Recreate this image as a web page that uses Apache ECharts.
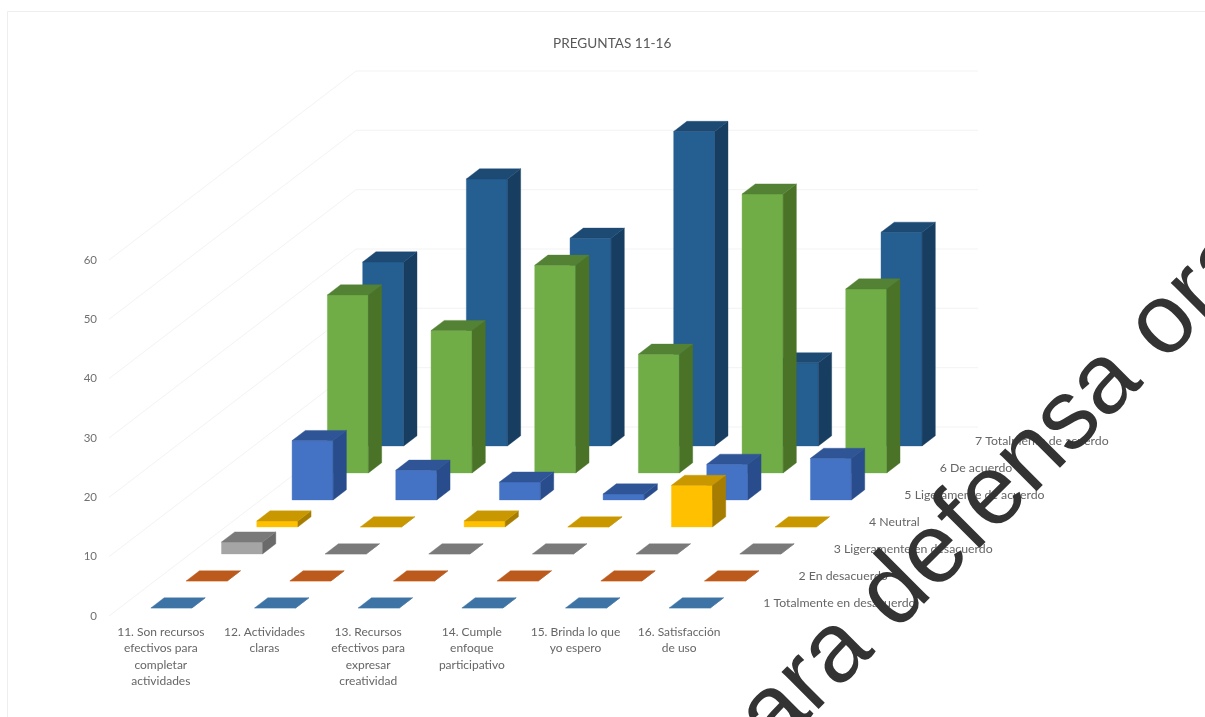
<!DOCTYPE html>
<html>
<head>
<meta charset="utf-8">
<style>html,body{margin:0;padding:0;background:#fff;overflow:hidden}#chart{width:1205px;height:717px}</style>
<script src="https://cdn.jsdelivr.net/npm/echarts@6/dist/echarts.min.js"></script>
</head>
<body>
<div id="chart"></div>
<script>
const categories = [
  '11. Son recursos\nefectivos para\ncompletar\nactividades',
  '12. Actividades\nclaras',
  '13. Recursos\nefectivos para\nexpresar\ncreatividad',
  '14. Cumple\nenfoque\nparticipativo',
  '15. Brinda lo que\nyo espero',
  '16. Satisfacción\nde uso'
];
const valueTicks = [0, 10, 20, 30, 40, 50, 60];
const totalmenteDesacuerdo = [0, 0, 0, 0, 0, 0];
const enDesacuerdo = [0, 0, 0, 0, 0, 0];
const ligeramenteDesacuerdo = [2, 0, 0, 0, 0, 0];
const neutral = [1, 0, 1, 0, 7, 0];
const ligeramenteAcuerdo = [10, 5, 3, 1, 6, 7];
const deAcuerdo = [30, 24, 35, 20, 47, 31];
const totalmenteAcuerdo = [31, 45, 35, 53, 14, 36];

// Each row sits one step further back on the floor of the oblique 3D view.
const rows = [
  { name: '1 Totalmente en desacuerdo', values: totalmenteDesacuerdo, front: '#5B9BD5', top: '#3E74A5', side: '#335F88' },
  { name: '2 En desacuerdo', values: enDesacuerdo, front: '#ED7D31', top: '#BC5A1D', side: '#9C4A16' },
  { name: '3 Ligeramente en desacuerdo', values: ligeramenteDesacuerdo, front: '#A5A5A5', top: '#7A7A7A', side: '#6A6A6A' },
  { name: '4 Neutral', values: neutral, front: '#FFC000', top: '#C99800', side: '#A67D00' },
  { name: '5 Ligeramente de acuerdo', values: ligeramenteAcuerdo, front: '#4472C4', top: '#2F5597', side: '#294C8C' },
  { name: '6 De acuerdo', values: deAcuerdo, front: '#70AD47', top: '#548235', side: '#4A7328' },
  { name: '7 Totalmente de acuerdo', values: totalmenteAcuerdo, front: '#255E91', top: '#1C4A73', side: '#173D60' }
];

const STEP_X = 35.3, STEP_Y = 27;
const ROW_START = 0.3, BAR_DEPTH = 0.375, BAR_WIDTH = 0.396;
const FONT = 'Lato, "Open Sans", sans-serif';
const rowCount = rows.length;

const shift = (pt, depth) => [pt[0] + STEP_X * depth, pt[1] - STEP_Y * depth];

function poly(points, fill) {
  return { type: 'polygon', shape: { points }, style: { fill, stroke: fill, lineWidth: 0.4 } };
}

function barRenderer(row, rowIndex) {
  return function (params, api) {
    const cat = api.value(0);
    const band = api.size([1, 0])[0];
    const half = band * BAR_WIDTH / 2;
    const base = api.coord([cat, 0]);
    const top = api.coord([cat, api.value(1)]);
    const d0 = ROW_START + rowIndex;
    const d1 = d0 + BAR_DEPTH;
    const fl = shift([base[0] - half, base[1]], d0);
    const fr = shift([base[0] + half, base[1]], d0);
    const tl = shift([top[0] - half, top[1]], d0);
    const tr = shift([top[0] + half, top[1]], d0);
    const br = shift([base[0] + half, base[1]], d1);
    const bt = shift([top[0] + half, top[1]], d1);
    const bl = shift([top[0] - half, top[1]], d1);
    return {
      type: 'group',
      children: [
        poly([fl, fr, tr, tl], row.front),
        poly([fr, br, bt, tr], row.side),
        poly([tl, tr, bt, bl], row.top)
      ]
    };
  };
}

// Faint wall gridlines: along the left wall, then across the back wall.
function wallRenderer(params, api) {
  const v = api.value(0);
  const first = api.coord([0, v]);
  const last = api.coord([categories.length - 1, v]);
  const band = api.size([1, 0])[0];
  const frontLeft = [first[0] - band / 2, first[1]];
  const frontRight = [last[0] + band / 2, last[1]];
  return {
    type: 'polyline',
    shape: { points: [frontLeft, shift(frontLeft, rowCount), shift(frontRight, rowCount)] },
    style: { fill: 'none', stroke: '#f3f3f3', lineWidth: 1 }
  };
}

// Row names run up the right-hand edge of the floor.
function rowLabelRenderer(params, api) {
  const i = api.value(0);
  const last = api.coord([categories.length - 1, 0]);
  const band = api.size([1, 0])[0];
  const pt = shift([last[0] + band / 2 + 14.5, last[1] + 1], i + 0.5);
  return {
    type: 'text',
    x: pt[0], y: pt[1],
    style: { text: rows[i].name, fill: '#666666', font: '12.3px ' + FONT, align: 'left', verticalAlign: 'middle' }
  };
}

const series = [
  { type: 'custom', coordinateSystem: 'cartesian2d', renderItem: wallRenderer, silent: true, z: 1,
    data: valueTicks.map(v => [v]), encode: { y: 0 } }
];
for (let r = rowCount - 1; r >= 0; r--) {
  series.push({
    type: 'custom', name: rows[r].name, coordinateSystem: 'cartesian2d',
    renderItem: barRenderer(rows[r], r), z: 10 + (rowCount - r),
    data: rows[r].values.map((v, i) => [i, v]), encode: { x: 0, y: 1 }
  });
}
series.push({
  type: 'custom', coordinateSystem: 'cartesian2d', renderItem: rowLabelRenderer, silent: true, z: 20,
  data: rows.map((_, i) => [i])
});

const chart = echarts.init(document.getElementById('chart'));
chart.setOption({
  animation: false,
  backgroundColor: '#ffffff',
  title: {
    text: 'PREGUNTAS 11-16', left: 548, top: 32,
    textStyle: { color: '#595959', fontSize: 13.6, fontWeight: 'normal', fontFamily: FONT }
  },
  grid: { left: 109, top: 260, width: 622, height: 356 },
  xAxis: {
    type: 'category', data: categories,
    axisLine: { show: false }, axisTick: { show: false }, splitLine: { show: false },
    axisLabel: { color: '#666666', fontSize: 12, fontFamily: FONT, lineHeight: 16.3, margin: 8, interval: 0 }
  },
  yAxis: {
    type: 'value', min: 0, max: 60, interval: 10,
    axisLine: { show: false }, axisTick: { show: false }, splitLine: { show: false },
    axisLabel: { color: '#707070', fontSize: 11.5, fontFamily: FONT, margin: 12,
      formatter: v => String(valueTicks[valueTicks.indexOf(v)]) }
  },
  graphic: [
    { type: 'rect', z: 0, silent: true, shape: { x: 7.5, y: 11.5, width: 1300, height: 800 },
      style: { fill: 'none', stroke: '#eeeeee', lineWidth: 1 } },
    { type: 'text', z: 100, silent: true, x: 989, y: 500, rotation: Math.PI / 4,
      style: { text: 'para defensa oral', fill: '#333333', font: '99px "Liberation Sans", Arial, sans-serif',
        align: 'center', verticalAlign: 'middle', shadowBlur: 4, shadowColor: '#333333' } }
  ],
  series
});
</script>
</body>
</html>
